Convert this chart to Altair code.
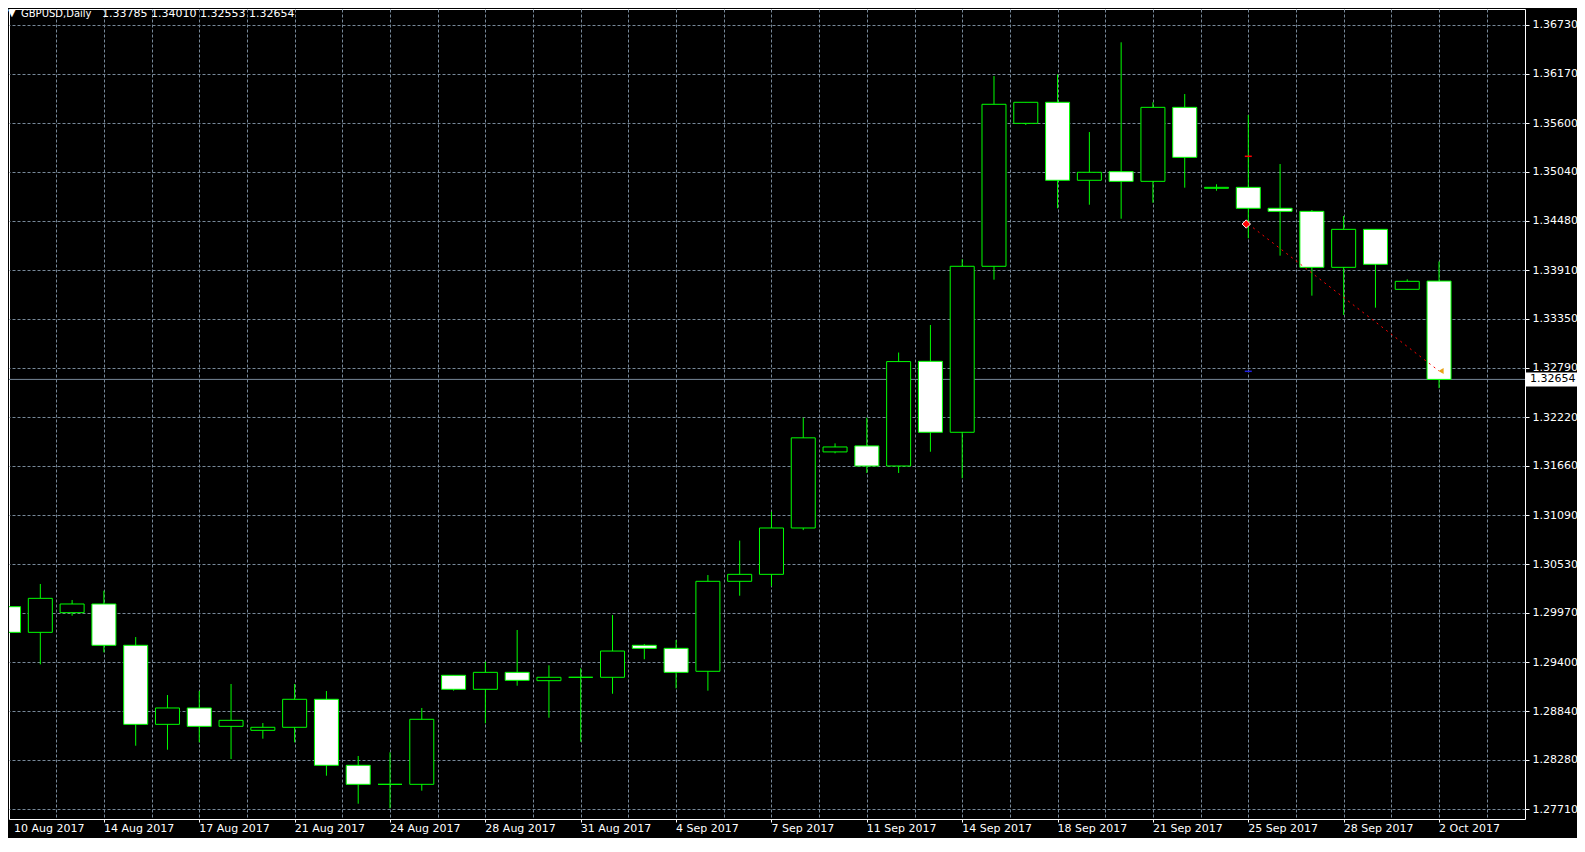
import altair as alt
import numpy as np
import pandas as pd

# ---------------- data ----------------
symbol = "GBPUSD,Daily"

dates = [
    "10 Aug 2017", "11 Aug 2017", "13 Aug 2017", "14 Aug 2017", "15 Aug 2017",
    "16 Aug 2017", "17 Aug 2017", "18 Aug 2017", "20 Aug 2017", "21 Aug 2017",
    "22 Aug 2017", "23 Aug 2017", "24 Aug 2017", "25 Aug 2017", "27 Aug 2017",
    "28 Aug 2017", "29 Aug 2017", "30 Aug 2017", "31 Aug 2017", "1 Sep 2017",
    "3 Sep 2017", "4 Sep 2017", "5 Sep 2017", "6 Sep 2017", "7 Sep 2017",
    "8 Sep 2017", "10 Sep 2017", "11 Sep 2017", "12 Sep 2017", "13 Sep 2017",
    "14 Sep 2017", "15 Sep 2017", "17 Sep 2017", "18 Sep 2017", "19 Sep 2017",
    "20 Sep 2017", "21 Sep 2017", "22 Sep 2017", "24 Sep 2017", "25 Sep 2017",
    "26 Sep 2017", "27 Sep 2017", "28 Sep 2017", "29 Sep 2017", "1 Oct 2017",
    "2 Oct 2017",
]

opens = [
    1.30040, 1.29745, 1.29971, 1.30071, 1.29596, 1.28687, 1.28875, 1.28664, 1.28618, 1.28653,
    1.28975, 1.28216, 1.27997, 1.27997, 1.29251, 1.29090, 1.29285, 1.29189, 1.29228, 1.29228,
    1.29596, 1.29561, 1.29297, 1.30332, 1.30412, 1.30945, 1.31820, 1.31889, 1.31658, 1.32862,
    1.32046, 1.33955, 1.35599, 1.35841, 1.34944, 1.35043, 1.34932, 1.35783, 1.34852, 1.34863,
    1.34622, 1.34587, 1.33943, 1.34380, 1.33690, 1.33785,
]
highs = [
    1.30136, 1.30301, 1.30117, 1.30224, 1.29691, 1.29024, 1.29070, 1.29151, 1.28702, 1.29151,
    1.29070, 1.28323, 1.28365, 1.28875, 1.29251, 1.29407, 1.29772, 1.29366, 1.29331, 1.29944,
    1.29611, 1.29657, 1.30404, 1.30800, 1.31131, 1.32214, 1.31918, 1.32214, 1.32963, 1.33280,
    1.34035, 1.36143, 1.35841, 1.36163, 1.35499, 1.36531, 1.35841, 1.35936, 1.34898, 1.35695,
    1.35131, 1.34602, 1.34533, 1.34380, 1.33805, 1.34010,
]
lows = [
    1.29504, 1.29377, 1.29936, 1.29515, 1.28441, 1.28395, 1.28480, 1.28288, 1.28522, 1.28480,
    1.28096, 1.27774, 1.27721, 1.27924, 1.29074, 1.28699, 1.29131, 1.28763, 1.28487, 1.29039,
    1.29435, 1.29101, 1.29074, 1.30166, 1.30276, 1.30921, 1.31804, 1.31578, 1.31578, 1.31822,
    1.31517, 1.33801, 1.35580, 1.34622, 1.34663, 1.34502, 1.34686, 1.34859, 1.34824, 1.34277,
    1.34077, 1.33617, 1.33395, 1.33479, 1.33690, 1.32553,
]
closes = [
    1.29745, 1.30136, 1.30071, 1.29596, 1.28687, 1.28875, 1.28664, 1.28733, 1.28653, 1.28975,
    1.28216, 1.27997, 1.27997, 1.28745, 1.29090, 1.29285, 1.29193, 1.29228, 1.29228, 1.29530,
    1.29561, 1.29285, 1.30332, 1.30412, 1.30945, 1.31982, 1.31877, 1.31658, 1.32859, 1.32046,
    1.33955, 1.35818, 1.35841, 1.34944, 1.35036, 1.34932, 1.35783, 1.35208, 1.34863, 1.34622,
    1.34587, 1.33943, 1.34380, 1.33978, 1.33782, 1.32654,
]

price_ticks = [
    1.36730, 1.36170, 1.35600, 1.35040, 1.34480, 1.33910, 1.33350, 1.32790, 1.32220,
    1.31660, 1.31090, 1.30530, 1.29970, 1.29400, 1.28840, 1.28280, 1.27710,
]

trade_bars = [39, 45]
trade_prices = [1.34441, 1.32751]
stop_level = 1.35220
target_level = 1.32747

# ---------------- layout constants ----------------
W, H = 1516, 810
X_MIN, X_MAX = 0.171875, 47.546875
Y_MIN, Y_MAX = 1.275982, 1.369140
GREEN = "#00ff00"
GRID = "#778899"
FONT = "DejaVu Sans"

df = pd.DataFrame({
    "idx": np.arange(len(dates)),
    "date": dates,
    "open": opens,
    "high": highs,
    "low": lows,
    "close": closes,
})
df["kind"] = np.where(df["close"] >= df["open"], "bull", "bear")

xs = alt.Scale(domain=[X_MIN, X_MAX], nice=False, zero=False)
ys = alt.Scale(domain=[Y_MIN, Y_MAX], nice=False, zero=False)

x_axis = alt.Axis(
    values=[1.5 * k for k in range(32)],
    labels=False, title=None, domain=False,
    grid=True, gridColor=GRID, gridDash=[3, 2], gridWidth=1,
    ticks=True, tickColor="#ffffff", tickSize=3, tickWidth=1,
    tickOpacity={"condition": {"test": "datum.value % 3 === 0", "value": 1}, "value": 0},
)
y_axis = alt.Axis(
    orient="right", values=price_ticks, format=".5f", title=None, domain=False,
    grid=True, gridColor=GRID, gridDash=[3, 2], gridWidth=1,
    ticks=True, tickColor="#ffffff", tickSize=4, tickWidth=1,
    labelColor="#ffffff", labelFont=FONT, labelFontSize=11, labelPadding=3,
    labelFlush=False, labelOverlap=False,
)


def X(field):
    return alt.X(field, scale=xs, axis=x_axis)


def Y(field):
    return alt.Y(field, scale=ys, axis=y_axis)


base = alt.Chart(df)

last = pd.DataFrame({"price": [closes[-1]], "label": [f"{closes[-1]:.5f}"]})

price_line = alt.Chart(last).mark_rule(color=GRID, strokeWidth=1).encode(y=Y("price:Q"))

wicks = base.mark_rule(color=GREEN, strokeWidth=1, clip=True).encode(
    x=X("idx:Q"), y=Y("low:Q"), y2="high:Q",
)

bodies = base.mark_bar(size=24, stroke=GREEN, strokeWidth=1, clip=True).encode(
    x=X("idx:Q"), y=Y("open:Q"), y2="close:Q",
    fill=alt.Fill("kind:N", scale=alt.Scale(domain=["bull", "bear"], range=["#000000", "#ffffff"]), legend=None),
)

trade = pd.DataFrame({"idx": trade_bars, "price": trade_prices})
trade_line = alt.Chart(trade).mark_line(color="#ff0000", strokeDash=[2, 4], strokeWidth=1).encode(
    x=X("idx:Q"), y=Y("price:Q"),
)
open_mark = alt.Chart(trade.iloc[[0]]).mark_point(
    shape="diamond", filled=True, fill="#ff0000", stroke="#ffffff",
    strokeWidth=1, size=70, opacity=1, xOffset=-2,
).encode(x=X("idx:Q"), y=Y("price:Q"))
close_mark = alt.Chart(trade.iloc[[1]]).mark_point(
    shape="triangle-left", filled=True, color="#e8a317", size=35, opacity=1, xOffset=2,
).encode(x=X("idx:Q"), y=Y("price:Q"))

levels = pd.DataFrame({
    "idx": [trade_bars[0], trade_bars[0]],
    "price": [stop_level, target_level],
    "kind": ["sl", "tp"],
})
level_ticks = alt.Chart(levels).mark_tick(orient="horizontal", size=7, thickness=1.5, opacity=1).encode(
    x=X("idx:Q"), y=Y("price:Q"),
    color=alt.Color("kind:N", scale=alt.Scale(domain=["sl", "tp"], range=["#ff0000", "#2020e0"]), legend=None),
)

box = alt.Chart(last).mark_rule(color="#ffffff", strokeWidth=14).encode(
    x=alt.value(W + 1), x2=alt.value(W + 52), y=Y("price:Q"),
)
box_text = alt.Chart(last).mark_text(
    align="left", baseline="middle", color="#000000", font=FONT, fontSize=11
).encode(x=alt.value(W + 5), y=Y("price:Q"), text="label:N")

lab = df[df["idx"] % 3 == 0][["idx", "date"]]
xlabels = alt.Chart(lab).transform_calculate(
    lx=f"max(datum.idx, {X_MIN})"
).mark_text(
    align="left", baseline="top", color="#ffffff", font=FONT, fontSize=11
).encode(x=X("lx:Q"), y=alt.value(H + 4), text="date:N")

tri = alt.Chart(pd.DataFrame({"t": ["\u25bc"]})).mark_text(
    align="left", baseline="middle", color="#ffffff", font=FONT, fontSize=10
).encode(x=alt.value(-1), y=alt.value(3.5), text="t:N")

head = alt.Chart(pd.DataFrame({"t": [symbol]})).mark_text(
    align="left", baseline="alphabetic", color="#ffffff", font=FONT, fontSize=10
).encode(x=alt.value(12), y=alt.value(8), text="t:N")

ohlc_str = " ".join(f"{v:.5f}" for v in [opens[-1], highs[-1], lows[-1], closes[-1]])
head_vals = alt.Chart(pd.DataFrame({"t": [ohlc_str]})).mark_text(
    align="left", baseline="alphabetic", color="#ffffff", font=FONT, fontSize=11
).encode(x=alt.value(93), y=alt.value(8), text="t:N")

chart = alt.layer(
    price_line, wicks, bodies, trade_line, level_ticks, open_mark, close_mark,
    box, box_text, xlabels, tri, head, head_vals,
).properties(
    width=W, height=H,
    background="#000000",
    padding={"left": 1, "top": 1, "right": 52, "bottom": 19},
    autosize=alt.AutoSizeParams(type="none"),
).configure_view(stroke="#ffffff", strokeWidth=1)

chart.save("out.html", embed_options={"renderer": "svg", "actions": False})
